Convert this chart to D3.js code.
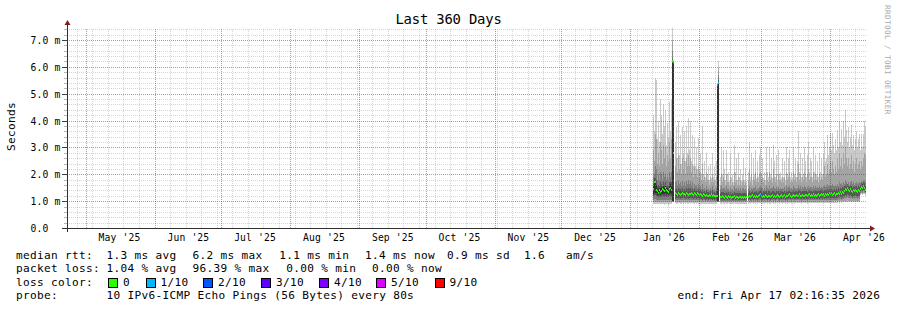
<!DOCTYPE html>
<html>
<head>
<meta charset="utf-8">
<script src="https://cdn.jsdelivr.net/npm/d3@7"></script>
<style>
  html, body { margin: 0; padding: 0; background: #fff; }
  svg { display: block; }
  text { font-family: "DejaVu Sans Mono", monospace; fill: #000; white-space: pre; }
</style>
</head>
<body>
<svg id="chart" width="897" height="310"></svg>
<script>
// time range of the graph (360 days ending at the probe time)
const rangeEnd = new Date(Date.UTC(2026, 3, 17, 2, 16, 35));
const rangeStart = new Date(rangeEnd - 360 * 86400e3);

// one sample per pixel column (10.8 h), first sample Jan 11 2026
const firstSample = Date.UTC(2026, 0, 11, 5, 52, 35);
const stepMs = 38880e3;

// sorted ping times (ms) per sample, null = no data
const pingMin = [
  0.89, 0.9, 0.9, 0.89, 0.88, 0.88, 0.89, 0.88, 0.89, 0.88, 0.88, 0.87, 0.89, 0.88, 0.88, 0.87, 0.88, 0.89, 0.88,
  0.95, 0.95, null,
  0.92, 0.91, 0.91, 0.92, 0.92, 0.91, 0.91, 0.92, 0.91, 0.92, 0.91, 0.92, 0.91, 0.91, 0.92, 0.91, 0.92, 0.92, 0.91, 0.91,
  0.92, 0.91, 0.92, 0.91, 0.9, 0.91, 0.91, 0.9, 0.91, 0.91, 0.9, 0.91, 0.9, 0.9, 0.91, 0.9, 0.91, 0.9, 0.91, 0.9, 0.9, 0.9,
  0.95, 0.95, null,
  0.91, 0.91, 0.92, 0.91, 0.9, 0.92, 0.91, 0.9, 0.92, 0.91, 0.91, 0.9, 0.91, 0.9, 0.92, 0.9, 0.91, 0.91, 0.9, 0.91,
  0.9, 0.9, 0.91, 0.9, 0.91, 0.9, 0.9, null,
  0.91, 0.92, 0.9, 0.92, 0.92, 0.91, 0.92, 0.91, 0.92, 0.91, 0.92, 0.93, 0.93, 0.91, 0.91, 0.92, 0.91, 0.92, 0.92, 0.91,
  0.92, 0.91, 0.91, 0.92, 0.93, 0.91, 0.92, 0.91, 0.92, 0.93, 0.92, 0.91, 0.92, 0.92, 0.91, 0.92, 0.93, 0.91, 0.92, 0.91,
  0.92, 0.93, 0.92, 0.91, 0.92, 0.93, 0.91, 0.92, 0.93, 0.92, 0.92, 0.93, 0.92, 0.91, 0.93, 0.92, 0.92, 0.93, 0.92, 0.91,
  0.92, 0.93, 0.92, 0.93, 0.92, 0.93, 0.92, 0.93, 0.92, 0.92, 0.93, 0.92, 0.93, 0.94, 0.92, 0.93, 0.92, 0.94, 0.93, 0.93,
  0.93, 0.94,
  0.93, 0.94, 0.93, 0.94, 0.94, 0.93, 0.94, 0.93, 0.95, 0.94, 0.95, 0.94, 0.95, 0.95, 0.96, 0.97, 0.96, 0.97, 0.96, 0.95,
  0.96, 0.96, 0.95, 0.96, 0.95, 0.96, 0.96, 0.95, 0.96, 0.95, 1.22, 1.25, 1.23, 1.27, 1.25, 1.2
];
const ping2 = [
  0.97, 0.98, 0.98, 0.97, 0.95, 0.96, 0.96, 0.95, 0.97, 0.96, 0.95, 0.95, 0.97, 0.96, 0.95, 0.95, 0.96, 0.97, 0.96,
  0.97, 0.97, null,
  0.98, 0.98, 0.97, 0.98, 0.98, 0.97, 0.98, 0.98, 0.97, 0.98, 0.97, 0.98, 0.98, 0.97, 0.98, 0.97, 0.98, 0.98, 0.97, 0.98,
  0.98, 0.97, 0.98, 0.97, 0.96, 0.98, 0.97, 0.96, 0.97, 0.97, 0.96, 0.97, 0.96, 0.96, 0.97, 0.96, 0.97, 0.96, 0.97, 0.96, 0.96, 0.96,
  0.97, 0.97, null,
  0.96, 0.96, 0.97, 0.96, 0.95, 0.97, 0.96, 0.95, 0.97, 0.96, 0.96, 0.95, 0.96, 0.95, 0.97, 0.95, 0.96, 0.96, 0.95, 0.96,
  0.95, 0.95, 0.96, 0.95, 0.96, 0.95, 0.95, null,
  0.96, 0.97, 0.95, 0.97, 0.97, 0.96, 0.97, 0.96, 0.97, 0.96, 0.97, 0.98, 0.98, 0.96, 0.96, 0.97, 0.96, 0.97, 0.97, 0.96,
  0.97, 0.96, 0.96, 0.97, 0.98, 0.96, 0.97, 0.96, 0.97, 0.98, 0.97, 0.96, 0.97, 0.97, 0.96, 0.97, 0.98, 0.96, 0.97, 0.96,
  0.97, 0.98, 0.97, 0.96, 0.97, 0.98, 0.96, 0.97, 0.98, 0.97, 0.97, 0.98, 0.97, 0.96, 0.98, 0.97, 0.97, 0.98, 0.97, 0.96,
  0.97, 0.98, 0.97, 0.98, 0.97, 0.98, 0.97, 0.98, 0.97, 0.97, 0.98, 0.97, 0.98, 0.99, 0.97, 0.98, 0.97, 0.99, 0.98, 0.98,
  0.98, 0.99,
  0.98, 0.99, 0.98, 0.99, 0.99, 0.98, 0.99, 0.98, 1.0, 0.99, 1.0, 0.99, 1.0, 1.0, 1.01, 1.02, 1.02, 1.03, 1.02, 1.01,
  1.02, 1.02, 1.0, 1.02, 1.01, 1.02, 1.01, 1.0, 1.02, 1.01, 1.27, 1.3, 1.28, 1.32, 1.3, 1.25
];
const ping3 = [
  1.05, 1.08, 1.08, 1.06, 1.03, 1.04, 1.05, 1.04, 1.06, 1.05, 1.04, 1.03, 1.06, 1.05, 1.04, 1.03, 1.05, 1.06, 1.05,
  0.98, 0.98, null,
  1.05, 1.04, 1.04, 1.05, 1.05, 1.03, 1.04, 1.05, 1.04, 1.05, 1.03, 1.05, 1.04, 1.03, 1.05, 1.04, 1.05, 1.05, 1.03, 1.04,
  1.04, 1.03, 1.05, 1.04, 1.02, 1.04, 1.03, 1.02, 1.04, 1.03, 1.02, 1.03, 1.02, 1.02, 1.03, 1.02, 1.03, 1.01, 1.03, 1.02, 1.02, 1.01,
  0.98, 0.98, null,
  1.02, 1.01, 1.02, 1.01, 1.0, 1.02, 1.01, 1.0, 1.02, 1.01, 1.02, 1.0, 1.01, 1.0, 1.02, 1.0, 1.01, 1.02, 1.0, 1.01,
  1.0, 0.99, 1.01, 1.0, 1.01, 1.0, 1.0, null,
  1.01, 1.03, 1.0, 1.02, 1.03, 1.01, 1.03, 1.02, 1.03, 1.01, 1.02, 1.04, 1.04, 1.02, 1.01, 1.03, 1.02, 1.03, 1.03, 1.01,
  1.03, 1.02, 1.01, 1.03, 1.04, 1.02, 1.03, 1.01, 1.03, 1.04, 1.02, 1.01, 1.03, 1.03, 1.02, 1.03, 1.04, 1.01, 1.03, 1.02,
  1.03, 1.04, 1.03, 1.02, 1.03, 1.04, 1.02, 1.03, 1.04, 1.03, 1.03, 1.04, 1.03, 1.02, 1.04, 1.03, 1.03, 1.04, 1.03, 1.02,
  1.03, 1.05, 1.03, 1.04, 1.03, 1.04, 1.03, 1.04, 1.03, 1.03, 1.05, 1.03, 1.04, 1.06, 1.03, 1.05, 1.03, 1.06, 1.04, 1.05,
  1.04, 1.06,
  1.05, 1.06, 1.04, 1.06, 1.06, 1.04, 1.06, 1.05, 1.07, 1.06, 1.08, 1.06, 1.08, 1.07, 1.1, 1.12, 1.11, 1.14, 1.12, 1.1,
  1.12, 1.11, 1.08, 1.11, 1.09, 1.12, 1.1, 1.08, 1.11, 1.09, 1.31, 1.34, 1.32, 1.36, 1.34, 1.29
];
const ping4 = [
  1.18, 1.22, 1.22, 1.2, 1.15, 1.14, 1.16, 1.15, 1.17, 1.18, 1.16, 1.15, 1.2, 1.17, 1.15, 1.14, 1.18, 1.2, 1.17,
  1.0, 1.0, null,
  1.12, 1.1, 1.1, 1.12, 1.11, 1.08, 1.1, 1.12, 1.1, 1.11, 1.09, 1.12, 1.1, 1.08, 1.11, 1.1, 1.12, 1.11, 1.08, 1.1,
  1.1, 1.09, 1.12, 1.1, 1.07, 1.1, 1.09, 1.06, 1.1, 1.08, 1.06, 1.09, 1.07, 1.06, 1.08, 1.07, 1.09, 1.06, 1.08, 1.06, 1.07, 1.06,
  1.0, 1.0, null,
  1.07, 1.05, 1.08, 1.06, 1.04, 1.07, 1.06, 1.04, 1.08, 1.06, 1.07, 1.04, 1.06, 1.05, 1.07, 1.04, 1.06, 1.07, 1.04, 1.06,
  1.05, 1.03, 1.06, 1.04, 1.06, 1.04, 1.05, null,
  1.06, 1.08, 1.05, 1.07, 1.09, 1.06, 1.08, 1.07, 1.09, 1.06, 1.08, 1.1, 1.1, 1.07, 1.06, 1.08, 1.07, 1.09, 1.08, 1.06,
  1.09, 1.07, 1.06, 1.08, 1.1, 1.07, 1.08, 1.06, 1.09, 1.1, 1.07, 1.06, 1.08, 1.09, 1.07, 1.08, 1.1, 1.06, 1.08, 1.07,
  1.09, 1.1, 1.08, 1.07, 1.09, 1.1, 1.07, 1.08, 1.1, 1.08, 1.09, 1.1, 1.08, 1.07, 1.1, 1.09, 1.08, 1.1, 1.09, 1.07,
  1.09, 1.11, 1.08, 1.1, 1.08, 1.1, 1.09, 1.1, 1.08, 1.09, 1.11, 1.09, 1.1, 1.12, 1.09, 1.11, 1.08, 1.12, 1.1, 1.11,
  1.1, 1.12,
  1.11, 1.13, 1.1, 1.12, 1.13, 1.1, 1.12, 1.11, 1.14, 1.12, 1.15, 1.12, 1.16, 1.14, 1.18, 1.22, 1.2, 1.25, 1.22, 1.18,
  1.22, 1.2, 1.16, 1.2, 1.18, 1.21, 1.19, 1.16, 1.2, 1.18, 1.36, 1.4, 1.38, 1.42, 1.4, 1.34
];
const median = [
  1.45, 1.72, 1.70, 1.40, 1.36, 1.30, 1.42, 1.33, 1.38, 1.45, 1.40, 1.36, 1.48, 1.42, 1.38, 1.34, 1.46, 1.50, 1.42,
  6.2, 2.8, null,
  1.30, 1.26, 1.24, 1.30, 1.28, 1.22, 1.27, 1.31, 1.25, 1.28, 1.24, 1.30, 1.26, 1.22, 1.28, 1.25, 1.31, 1.27, 1.23, 1.29,
  1.26, 1.24, 1.30, 1.25, 1.22, 1.27, 1.24, 1.20, 1.26, 1.23, 1.19, 1.24, 1.21, 1.18, 1.23, 1.20, 1.25, 1.19, 1.22, 1.18, 1.21, 1.19,
  1.20, 5.4, null,
  1.17, 1.14, 1.19, 1.15, 1.12, 1.18, 1.16, 1.13, 1.19, 1.15, 1.17, 1.12, 1.16, 1.14, 1.18, 1.13, 1.15, 1.17, 1.12, 1.16,
  1.14, 1.11, 1.15, 1.13, 1.16, 1.12, 1.14, null,
  1.16, 1.20, 1.14, 1.18, 1.22, 1.15, 1.19, 1.17, 1.21, 1.16, 1.19, 1.23, 1.25, 1.18, 1.15, 1.20, 1.17, 1.22, 1.19, 1.16,
  1.21, 1.18, 1.15, 1.20, 1.23, 1.17, 1.19, 1.16, 1.21, 1.24, 1.18, 1.15, 1.20, 1.22, 1.17, 1.19, 1.23, 1.16, 1.20, 1.18,
  1.22, 1.25, 1.19, 1.17, 1.21, 1.24, 1.18, 1.20, 1.23, 1.19, 1.21, 1.25, 1.20, 1.18, 1.23, 1.21, 1.19, 1.24, 1.22, 1.18,
  1.22, 1.26, 1.20, 1.23, 1.19, 1.25, 1.21, 1.24, 1.20, 1.22, 1.26, 1.21, 1.24, 1.28, 1.22, 1.25, 1.20, 1.27, 1.23, 1.26,
  1.24, 1.29,
  1.25, 1.29, 1.23, 1.27, 1.30, 1.24, 1.28, 1.26, 1.31, 1.27, 1.33, 1.28, 1.35, 1.30, 1.38, 1.44, 1.40, 1.48, 1.42, 1.36,
  1.45, 1.39, 1.33, 1.41, 1.36, 1.43, 1.38, 1.34, 1.40, 1.37, 1.46, 1.52, 1.48, 1.56, 1.50, 1.42
];
const ping7 = [
  1.65, 1.85, 1.85, 1.8, 1.55, 1.6, 1.55, 1.7, 1.65, 1.55, 1.7, 1.6, 1.7, 1.55, 1.6, 1.55, 1.7, 1.7, 1.7,
  6.3, 6.15, null,
  1.45, 1.45, 1.4, 1.5, 1.45, 1.45, 1.4, 1.5, 1.42, 1.45, 1.4, 1.5, 1.45, 1.5, 1.45, 1.48, 1.42, 1.45, 1.38, 1.45,
  1.4, 1.42, 1.36, 1.45, 1.38, 1.4, 1.35, 1.42, 1.35, 1.38, 1.32, 1.4, 1.35, 1.35, 1.32, 1.38, 1.32, 1.4, 1.32, 1.35, 1.3, 1.36,
  5.3, 5.5, null,
  1.32, 1.34, 1.33, 1.34, 1.3, 1.32, 1.35, 1.3, 1.34, 1.28, 1.33, 1.28, 1.31, 1.28, 1.35, 1.3, 1.32, 1.31, 1.3, 1.31,
  1.3, 1.26, 1.3, 1.32, 1.29, 1.3, 1.27, null,
  1.32, 1.36, 1.3, 1.35, 1.36, 1.32, 1.35, 1.34, 1.36, 1.32, 1.35, 1.38, 1.4, 1.34, 1.32, 1.36, 1.33, 1.36, 1.36, 1.32,
  1.36, 1.36, 1.32, 1.35, 1.38, 1.36, 1.35, 1.32, 1.37, 1.36, 1.36, 1.32, 1.36, 1.36, 1.34, 1.34, 1.38, 1.32, 1.38, 1.35,
  1.38, 1.4, 1.35, 1.34, 1.36, 1.4, 1.35, 1.36, 1.38, 1.35, 1.42, 1.4, 1.38, 1.34, 1.38, 1.37, 1.36, 1.4, 1.37, 1.35,
  1.4, 1.42, 1.37, 1.39, 1.35, 1.42, 1.37, 1.4, 1.36, 1.38, 1.4, 1.38, 1.4, 1.44, 1.38, 1.42, 1.42, 1.42, 1.4, 1.45,
  1.4, 1.45,
  1.42, 1.44, 1.42, 1.42, 1.45, 1.4, 1.44, 1.42, 1.48, 1.45, 1.5, 1.46, 1.52, 1.5, 1.55, 1.6, 1.56, 1.62, 1.58, 1.52,
  1.6, 1.56, 1.5, 1.58, 1.52, 1.58, 1.55, 1.5, 1.56, 1.54, 1.6, 1.66, 1.62, 1.7, 1.66, 1.58
];
const ping8 = [
  1.9, 2.0, 2.3, 2.2, 1.8, 2.0, 1.8, 2.1, 2.0, 1.8, 2.1, 1.9, 2.0, 1.8, 1.9, 1.8, 2.1, 1.9, 2.1,
  6.6, 6.2, null,
  1.7, 1.75, 1.6, 1.8, 1.65, 1.7, 1.55, 1.75, 1.6, 1.7, 1.55, 1.75, 1.65, 1.8, 1.65, 1.75, 1.6, 1.7, 1.5, 1.65,
  1.55, 1.6, 1.5, 1.65, 1.5, 1.55, 1.45, 1.65, 1.45, 1.5, 1.4, 1.55, 1.45, 1.45, 1.4, 1.5, 1.4, 1.55, 1.4, 1.45, 1.38, 1.5,
  5.35, 5.7, null,
  1.45, 1.55, 1.45, 1.5, 1.5, 1.4, 1.55, 1.45, 1.45, 1.38, 1.5, 1.42, 1.45, 1.38, 1.55, 1.45, 1.5, 1.42, 1.5, 1.42,
  1.48, 1.38, 1.45, 1.48, 1.4, 1.45, 1.38, null,
  1.45, 1.55, 1.42, 1.5, 1.45, 1.5, 1.48, 1.55, 1.42, 1.5, 1.45, 1.52, 1.55, 1.48, 1.5, 1.42, 1.48, 1.4, 1.55, 1.48,
  1.45, 1.55, 1.45, 1.5, 1.48, 1.58, 1.5, 1.45, 1.52, 1.45, 1.52, 1.45, 1.5, 1.45, 1.5, 1.45, 1.52, 1.42, 1.55, 1.48,
  1.52, 1.55, 1.45, 1.48, 1.45, 1.55, 1.48, 1.5, 1.47, 1.5, 1.6, 1.48, 1.55, 1.45, 1.52, 1.5, 1.55, 1.52, 1.45, 1.52,
  1.58, 1.48, 1.52, 1.52, 1.45, 1.56, 1.5, 1.55, 1.48, 1.52, 1.48, 1.55, 1.5, 1.52, 1.5, 1.55, 1.6, 1.52, 1.55, 1.62,
  1.55, 1.6,
  1.6, 1.55, 1.62, 1.56, 1.55, 1.6, 1.55, 1.65, 1.58, 1.7, 1.62, 1.68, 1.6, 1.72, 1.65, 1.8, 1.7, 1.65, 1.72, 1.6,
  1.7, 1.75, 1.62, 1.7, 1.6, 1.68, 1.72, 1.62, 1.68, 1.7, 1.68, 1.75, 1.7, 1.78, 1.8, 1.72
];
const ping9 = [
  2.9, 2.5, 3.5, 3.3, 2.4, 2.8, 2.3, 3.2, 2.9, 2.4, 3.1, 2.6, 3.0, 2.3, 2.7, 2.5, 3.2, 2.6, 3.3,
  7.0, 6.2, null,
  2.3, 2.6, 2.1, 2.7, 2.2, 2.4, 2.0, 2.6, 2.2, 2.5, 2.0, 2.6, 2.3, 2.7, 2.3, 2.6, 2.1, 2.4, 1.9, 2.3,
  2.0, 2.2, 1.9, 2.3, 1.9, 2.1, 1.8, 2.4, 1.8, 1.9, 1.7, 2.1, 1.8, 1.8, 1.6, 1.9, 1.7, 2.0, 1.7, 1.8, 1.6, 1.9,
  5.38, 5.95, null,
  1.6, 2.0, 1.7, 1.9, 1.8, 1.6, 2.0, 1.7, 1.7, 1.55, 1.9, 1.6, 1.7, 1.55, 2.1, 1.7, 1.8, 1.6, 1.9, 1.6,
  1.8, 1.55, 1.7, 1.8, 1.6, 1.7, 1.55, null,
  1.8, 2.2, 1.7, 2.0, 1.6, 1.9, 1.8, 2.1, 1.7, 1.9, 1.7, 2.0, 2.1, 1.8, 1.9, 1.7, 1.8, 1.6, 2.1, 1.8,
  1.7, 2.1, 1.8, 1.9, 1.7, 2.2, 1.9, 1.7, 2.0, 1.6, 2.0, 1.8, 1.8, 1.7, 1.9, 1.7, 1.9, 1.6, 2.1, 1.8,
  1.9, 2.1, 1.7, 1.8, 1.7, 2.1, 1.8, 1.9, 1.7, 1.9, 2.4, 1.8, 2.0, 1.7, 1.9, 1.8, 2.1, 1.9, 1.7, 2.0,
  2.2, 1.8, 1.9, 1.9, 1.7, 2.1, 1.8, 2.0, 1.8, 1.9, 1.7, 2.0, 1.8, 1.9, 1.8, 2.0, 2.3, 1.9, 2.0, 2.4,
  2.0, 2.2,
  2.5, 2.1, 2.5, 2.2, 2.0, 2.3, 2.1, 2.6, 2.2, 2.8, 2.3, 2.6, 2.2, 2.8, 2.4, 3.0, 2.6, 2.3, 2.6, 2.2,
  2.4, 2.7, 2.2, 2.5, 2.1, 2.4, 2.6, 2.2, 2.4, 2.5, 2.2, 2.5, 2.3, 2.6, 2.8, 2.7
];
const pingMax = [
  4.2, 3.6, 5.6, 5.5, 3.3, 4.0, 3.2, 4.8, 4.2, 3.5, 4.6, 3.8, 4.4, 3.1, 3.9, 3.4, 4.7, 3.6, 4.75,
  7.45, 6.25, null,
  3.2, 3.75, 2.6, 4.0, 2.7, 3.45, 2.4, 3.75, 2.8, 3.6, 2.5, 3.8, 2.8, 4.1, 2.9, 4.0, 2.5, 3.45, 2.3, 3.35,
  2.3, 3.0, 2.2, 3.35, 2.2, 2.8, 2.0, 3.8, 2.0, 2.5, 1.9, 2.8, 2.0, 2.3, 1.8, 2.4, 1.85, 2.8, 1.9, 2.3, 1.8, 2.5,
  5.4, 6.2, null,
  1.9, 3.0, 2.0, 2.9, 2.2, 1.8, 2.9, 2.0, 2.1, 1.75, 2.8, 1.9, 2.0, 1.7, 3.1, 2.1, 2.6, 1.8, 2.8, 1.9,
  2.2, 1.75, 2.0, 2.6, 1.8, 2.25, 1.75, null,
  2.1, 3.2, 1.9, 2.8, 1.8, 2.6, 2.0, 2.9, 1.85, 2.5, 1.9, 2.7, 3.0, 2.0, 2.6, 1.85, 2.1, 1.8, 3.0, 2.1,
  1.9, 3.0, 2.0, 2.6, 1.85, 3.1, 2.5, 1.9, 2.7, 1.8, 2.9, 2.0, 2.1, 1.85, 2.6, 1.9, 2.5, 1.8, 3.0, 2.0,
  2.6, 2.9, 1.9, 2.1, 1.85, 3.0, 2.0, 2.6, 1.9, 2.5, 3.6, 2.1, 2.8, 1.9, 2.6, 2.0, 3.0, 2.5, 1.9, 2.7,
  3.2, 2.1, 2.6, 2.5, 1.9, 3.0, 2.1, 2.7, 2.0, 2.5, 1.9, 2.8, 2.1, 2.6, 2.0, 2.8, 3.2, 2.5, 2.6, 3.45,
  2.7, 3.0,
  3.55, 2.9, 3.55, 3.1, 2.8, 3.3, 2.9, 3.65, 3.0, 4.0, 3.2, 3.7, 3.1, 4.0, 3.4, 4.4, 3.65, 3.2, 3.75, 3.0,
  3.4, 3.85, 3.1, 3.45, 2.9, 3.3, 3.6, 3.0, 3.3, 3.5, 2.9, 3.5, 3.0, 3.5, 4.0, 3.8
];
// 5th..6th ping band where it shows outside the median mark: [sample, low, high]
const darkCore = [
  [0, 1.26, 1.55], [1, 1.32, 1.78], [2, 1.32, 1.76], [3, 1.3, 1.6], [4, 1.24, 1.45], [5, 1.22, 1.45],
  [6, 1.26, 1.5], [7, 1.24, 1.5], [8, 1.27, 1.52], [9, 1.28, 1.5], [10, 1.26, 1.55], [11, 1.25, 1.48],
  [12, 1.3, 1.58], [13, 1.27, 1.5], [14, 1.25, 1.5], [15, 1.24, 1.45], [16, 1.28, 1.58], [17, 1.3, 1.62],
  [18, 1.27, 1.55], [19, 1.0, 6.15], [20, 1.0, 6.1], [64, 1.0, 5.3], [65, 1.0, 5.35]
];
// samples with lost pings: [sample, pings lost of 10]
const lossMarks = [[65, 1], [107, 1]];

const lossLevels = [0, 1, 2, 3, 4, 5, 9];
const lossLabels = ['0', '1/10', '2/10', '3/10', '4/10', '5/10', '9/10'];
const lossColors = ['#26ff00', '#00b8ff', '#0059ff', '#5e00ff', '#7e00ff', '#dd00ff', '#ff0000'];

const yTicks = [0, 1, 2, 3, 4, 5, 6, 7];
const yTickLabels = ['0.0  ', '1.0 m', '2.0 m', '3.0 m', '4.0 m', '5.0 m', '6.0 m', '7.0 m'];
const monthLabels = ["May '25", "Jun '25", "Jul '25", "Aug '25", "Sep '25", "Oct '25",
  "Nov '25", "Dec '25", "Jan '26", "Feb '26", "Mar '26", "Apr '26"];

const rttLegend = ['1.3 ms avg', '6.2 ms max', '1.1 ms min', '1.4 ms now', '0.9 ms sd', '1.6', 'am/s'];
const lossLegend = ['1.04 % avg', '96.39 % max', ' 0.00 % min', ' 0.00 % now'];
const probeText = '10 IPv6-ICMP Echo Pings (56 Bytes) every 80s';
const endText = 'end: Fri Apr 17 02:16:35 2026';

// ---- layout
const X0 = 67, X1 = 867, Y0 = 228, Y1 = 28;
const svg = d3.select('#chart');
svg.append('rect').attr('width', 897).attr('height', 310).attr('fill', '#ffffff');

const x = d3.scaleUtc().domain([rangeStart, rangeEnd]).range([66.4, 866.4]);
const y = d3.scaleLinear().domain([0, 200 * 7 / 188]).range([Y0, Y1]);
const py = v => Math.round(y(v));

const cols = median.map((m, i) => ({ i, t: new Date(firstSample + i * stepMs) }))
  .filter(d => median[d.i] != null);
const colX = d => Math.floor(x(d.t));

// ---- smoke
const plot = svg.append('g').attr('shape-rendering', 'crispEdges');
const bands = [
  [pingMin, pingMax, '#cacaca'],
  [ping2, ping9, '#a4a4a4'],
  [ping3, ping8, '#7e7e7e'],
  [ping4, ping7, '#585858']
];
bands.forEach(([lo, hi, color]) => {
  plot.append('g').selectAll('rect')
    .data(cols.filter(d => lo[d.i] != null && hi[d.i] != null))
    .join('rect')
    .attr('x', colX)
    .attr('width', 1)
    .attr('y', d => py(hi[d.i]))
    .attr('height', d => Math.max(0, py(lo[d.i]) - py(hi[d.i])))
    .attr('fill', color);
});
plot.append('g').selectAll('rect')
  .data(darkCore)
  .join('rect')
  .attr('x', d => Math.floor(x(new Date(firstSample + d[0] * stepMs))))
  .attr('width', 1)
  .attr('y', d => py(d[2]))
  .attr('height', d => py(d[1]) - py(d[2]))
  .attr('fill', '#323232');

// median marks coloured by loss
const lossAt = new Map(lossMarks);
plot.append('g').selectAll('rect')
  .data(cols)
  .join('rect')
  .attr('x', colX)
  .attr('width', 1)
  .attr('y', d => py(median[d.i]) - 1)
  .attr('height', 2)
  .attr('fill', d => lossColors[lossLevels.indexOf(lossAt.get(d.i) || 0)]);

// ---- grid (drawn over the smoke like rrdtool does)
const grid = svg.append('g').attr('shape-rendering', 'crispEdges').attr('stroke-dasharray', '1,1');
const minorColor = 'rgba(150,150,150,0.4)';
const majorColor = 'rgba(235,0,0,0.5)';

const minorY = d3.range(1, 38).filter(k => k % 5 !== 0).map(k => k / 5);
grid.selectAll('line.hmin').data(minorY).join('line')
  .attr('x1', X0).attr('x2', X1)
  .attr('y1', v => py(v) + 0.5).attr('y2', v => py(v) + 0.5)
  .attr('stroke', minorColor);

const months = d3.utcMonth.range(rangeStart, rangeEnd);
const monthSet = new Set(months.map(m => +m));
const weeks = d3.utcSunday.range(rangeStart, rangeEnd).filter(w => !monthSet.has(+w));
grid.selectAll('line.vmin').data(weeks).join('line')
  .attr('x1', t => Math.floor(x(t)) + 0.5).attr('x2', t => Math.floor(x(t)) + 0.5)
  .attr('y1', Y0).attr('y2', Y1)
  .attr('stroke', minorColor);

grid.selectAll('line.hmaj').data(yTicks.slice(1)).join('line')
  .attr('x1', X0).attr('x2', X1)
  .attr('y1', v => py(v) + 0.5).attr('y2', v => py(v) + 0.5)
  .attr('stroke', majorColor);
grid.selectAll('line.vmaj').data(months).join('line')
  .attr('x1', t => Math.floor(x(t)) + 0.5).attr('x2', t => Math.floor(x(t)) + 0.5)
  .attr('y1', Y0).attr('y2', Y1)
  .attr('stroke', majorColor);

// ---- axes
const axis = svg.append('g').attr('shape-rendering', 'crispEdges');
axis.selectAll('line.tmin').data(minorY).join('line')
  .attr('x1', X0 - 3).attr('x2', X0)
  .attr('y1', v => py(v) + 0.5).attr('y2', v => py(v) + 0.5)
  .attr('stroke', '#b8b8b8');
axis.selectAll('line.tmaj').data(yTicks).join('line')
  .attr('x1', X0 - 5).attr('x2', X0)
  .attr('y1', v => py(v) + 0.5).attr('y2', v => py(v) + 0.5)
  .attr('stroke', '#404040');
axis.append('line')
  .attr('x1', X0 - 4).attr('x2', X1 + 4)
  .attr('y1', Y0 + 0.5).attr('y2', Y0 + 0.5)
  .attr('stroke', '#303030');
axis.append('line')
  .attr('x1', X0 + 0.5).attr('x2', X0 + 0.5)
  .attr('y1', Y0 + 4).attr('y2', Y1 - 4)
  .attr('stroke', '#303030');

svg.append('polygon')
  .attr('points', [[X1 + 3, Y0 - 2.5], [X1 + 3, Y0 + 3.5], [X1 + 8, Y0 + 0.5]].join(' '))
  .attr('fill', '#7f1f1f');
svg.append('polygon')
  .attr('points', [[X0 - 2.5, Y1 - 3], [X0 + 3.5, Y1 - 3], [X0 + 0.5, Y1 - 8]].join(' '))
  .attr('fill', '#7f1f1f');

// tick labels
svg.append('g').selectAll('text').data(yTicks).join('text')
  .attr('x', 60.5)
  .attr('y', v => py(v) + 4)
  .attr('text-anchor', 'end')
  .style('font-size', '9.7px')
  .style('letter-spacing', '0.15px')
  .text((v, i) => yTickLabels[i]);

svg.append('g').selectAll('text').data(months).join('text')
  .attr('x', m => x(d3.utcDay.offset(m, 15)))
  .attr('y', 240.5)
  .attr('text-anchor', 'middle')
  .style('font-size', '9.7px')
  .style('letter-spacing', '0.15px')
  .text((m, i) => monthLabels[i]);

// title, unit, credit
svg.append('text')
  .attr('x', 448.5).attr('y', 23.8)
  .attr('text-anchor', 'middle')
  .style('font-size', '13.9px')
  .style('letter-spacing', '-0.2px')
  .text('Last 360 Days');

svg.append('text')
  .attr('transform', 'translate(15,126.5) rotate(-90)')
  .attr('text-anchor', 'middle')
  .style('font-size', '11.1px')
  .style('letter-spacing', '0.3px')
  .text('Seconds');

svg.append('text')
  .attr('transform', 'translate(884.5,5) rotate(90)')
  .style('font-size', '7.6px')
  .style('letter-spacing', '0.42px')
  .style('fill', '#a8a8a8')
  .text('RRDTOOL / TOBI OETIKER');

// ---- legend
const legend = svg.append('g').style('font-size', '11.1px').style('letter-spacing', '0.31px');
const rowY = [258.5, 272, 285.6, 299.2];
const colXs = [106.6, 192.6, 279.3, 365, 447, 524, 566];
const put = (str, lx, ly) => legend.append('text').attr('x', lx).attr('y', ly).text(str);

put('median rtt:', 16, rowY[0]);
rttLegend.forEach((s, i) => put(s, colXs[i], rowY[0]));
put('packet loss:', 16, rowY[1]);
lossLegend.forEach((s, i) => put(s, colXs[i], rowY[1]));
put('loss color:', 16, rowY[2]);
const boxX = [108.5, 146, 203.5, 261.5, 319.5, 376.5, 435];
lossLabels.forEach((s, i) => {
  legend.append('rect')
    .attr('x', boxX[i]).attr('y', rowY[2] - 7.6)
    .attr('width', 9).attr('height', 9)
    .attr('fill', lossColors[i])
    .attr('stroke', '#000')
    .attr('stroke-width', 1)
    .attr('shape-rendering', 'crispEdges');
  put(s, boxX[i] + 14.5, rowY[2]);
});
put('probe:', 16, rowY[3]);
put(probeText, 106.6, rowY[3]);
put(endText, 677.6, rowY[3]);
</script>
</body>
</html>
